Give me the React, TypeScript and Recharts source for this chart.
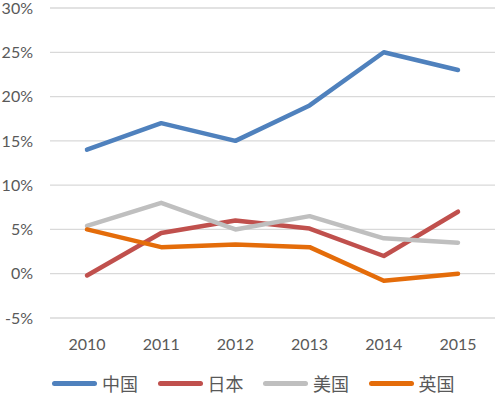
import { LineChart, Line, XAxis, YAxis, CartesianGrid, Legend } from 'recharts';

const years = ['2010', '2011', '2012', '2013', '2014', '2015'];
const china = [14, 17, 15, 19, 25, 23];
const japan = [-0.2, 4.6, 6, 5.1, 2, 7];
const usa = [5.4, 8, 5, 6.5, 4, 3.5];
const uk = [5, 3, 3.3, 3, -0.8, 0];
const yTicks = [-5, 0, 5, 10, 15, 20, 25, 30];

const seriesList = [
  { key: 'china', name: '中国', color: '#4F81BD' },
  { key: 'japan', name: '日本', color: '#C0504D' },
  { key: 'usa', name: '美国', color: '#BFBFBF' },
  { key: 'uk', name: '英国', color: '#E46C0A' },
];

const data = years.map((year, i) => ({
  year,
  china: china[i],
  japan: japan[i],
  usa: usa[i],
  uk: uk[i],
}));

const font = 'Lato, "Noto Sans CJK SC", sans-serif';

function LegendRow(): JSX.Element {
  return (
    <div style={{ display: 'flex', paddingLeft: 52, height: 24, alignItems: 'center', fontSize: 18, color: '#595959' }}>
      {seriesList.map((s) => (
        <div key={s.key} style={{ display: 'flex', alignItems: 'center', width: 105.5 }}>
          <div style={{ width: 45, height: 5, borderRadius: 3, background: s.color, marginRight: 5 }} />
          <span style={{ fontFamily: '"Noto Sans CJK SC", sans-serif', lineHeight: '24px' }}>{s.name}</span>
        </div>
      ))}
    </div>
  );
}

export default function App(): JSX.Element {
  return (
    <div style={{ position: 'absolute', left: 0, top: 0, background: '#fff' }}>
      <LineChart width={495} height={397} data={data} margin={{ top: 8, right: 0, left: 0, bottom: 2 }}>
        <CartesianGrid vertical={false} stroke="#D9D9D9" strokeWidth={1.3} />
        <XAxis
          dataKey="year"
          axisLine={false}
          tickLine={false}
          tickMargin={15}
          height={53}
          padding={{ left: 37, right: 37 }}
          tick={{ fontSize: 16, fill: '#595959', fontFamily: font }}
        />
        <YAxis
          domain={[-5, 30]}
          ticks={yTicks}
          interval={0}
          axisLine={false}
          tickLine={false}
          width={50}
          tickMargin={11}
          tickFormatter={(v: number) => `${v}%`}
          tick={{ fontSize: 16, fill: '#595959', fontFamily: font }}
        />
        <Legend verticalAlign="bottom" content={() => <LegendRow />} />
        {seriesList.map((s) => (
          <Line
            key={s.key}
            dataKey={s.key}
            name={s.name}
            stroke={s.color}
            strokeWidth={4.5}
            dot={false}
            strokeLinejoin="round"
            strokeLinecap="round"
            isAnimationActive={false}
          />
        ))}
      </LineChart>
    </div>
  );
}
